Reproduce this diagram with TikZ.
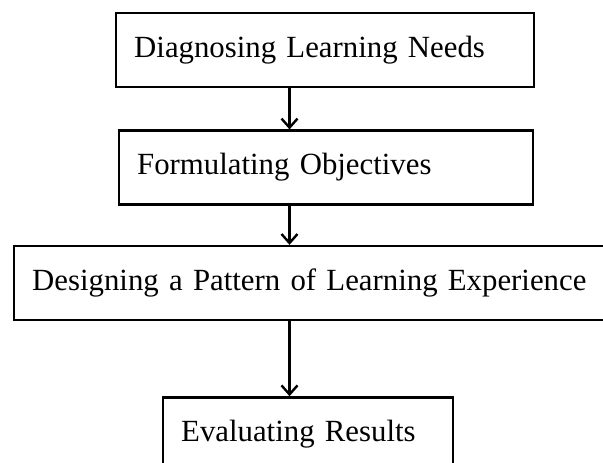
\documentclass[tikz,border=0pt]{standalone}
\usepackage{fontspec}
\setmainfont[WordSpace=0.85]{Liberation Serif}
\usepackage{tikz}
\usetikzlibrary{positioning,arrows.meta}

\begin{document}
\begin{tikzpicture}[x=0.5pt,y=-0.5pt,thick,
    stage/.style={rectangle,draw,line width=1.2pt,minimum height=37pt,
        inner xsep=9pt,align=left,font=\fontsize{15.4}{18}\selectfont},
    flow/.style={-{Straight Barb[length=4.5pt,width=8pt,line width=1.2pt]},line width=1.1pt}]
    \useasboundingbox (0,0) rectangle (603,462);
    \node[stage] (1) [text width=191pt, anchor=north west] at (115,12) {Diagnosing Learning Needs};
    \node[stage] (2) [text width=189pt, below=20.5pt of 1.south west, anchor=north west, xshift=1.5pt] {Formulating Objectives};
    \node[stage] (3) [text width=310pt, below=19.5pt of 2.south west, anchor=north west, xshift=-52.5pt] {Designing a Pattern of Learning Experience};
    \node[stage] (4) [text width=127pt, below=37.5pt of 3.south west, anchor=north west, xshift=74.5pt] {Evaluating Results};
    % arrows run down one column, off the box centres
    \coordinate (col) at (289.5,0);
    \draw[flow] (1.south -| col) -- (2.north -| col);
    \draw[flow] (2.south -| col) -- (3.north -| col);
    \draw[flow] (3.south -| col) -- (4.north -| col);
\end{tikzpicture}
\end{document}
